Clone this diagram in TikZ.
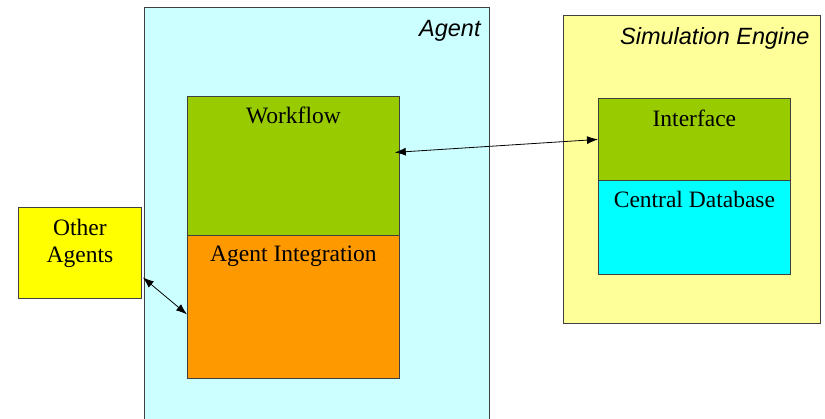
\documentclass[tikz,border=0pt]{standalone}
\usepackage{fontspec}
\setmainfont{Liberation Serif}
\setsansfont{Liberation Sans}
\usetikzlibrary{arrows.meta}

\definecolor{agentbg}{HTML}{CCFFFF}
\definecolor{enginebg}{HTML}{FFFF99}
\definecolor{flowgreen}{HTML}{99CC00}
\definecolor{integorange}{HTML}{FF9900}
\definecolor{otheryellow}{HTML}{FFFF00}
\definecolor{dbcyan}{HTML}{00FFFF}

\begin{document}
\begin{tikzpicture}[
    x=1pt, y=-1pt,
    font=\fontsize{23.5}{27}\selectfont,
    box/.style={rectangle, draw=black!75, line width=0.8pt, anchor=north west, inner sep=0pt},
    group/.style={box, fill=#1},
    part/.style={box, fill=#1},
    caption/.style={anchor=north east, font=\fontsize{23.5}{27}\selectfont\sffamily\itshape,
      inner sep=0pt, xshift=-9pt, yshift=-13pt},
    title/.style={anchor=north, inner sep=0pt, yshift=-11pt, align=center},
    link/.style={{Latex[length=11pt,width=8pt]}-{Latex[length=11pt,width=8pt]}, line width=0.8pt},
  ]
  \clip (0,0) rectangle (825,418);

  \node[group=agentbg, minimum width=345pt, minimum height=430pt,
    label={[caption]north east:Agent}] (agent) at (144,7) {};
  \node[part=flowgreen, minimum width=212pt, minimum height=139pt,
    label={[title]north:Workflow}] (workflow) at (187,96) {};
  \node[part=integorange, minimum width=212pt, minimum height=143pt,
    label={[title]north:Agent Integration}] (integration) at (187,235) {};

  \node[part=otheryellow, minimum width=123pt, minimum height=91pt,
    label={[title, yshift=-1pt]north:Other\\Agents}] (others) at (18,207) {};

  \node[group=enginebg, minimum width=257pt, minimum height=308pt,
    label={[caption, xshift=-2pt, yshift=1pt]north east:Simulation Engine}] (engine) at (563,15) {};
  \node[part=flowgreen, minimum width=192pt, minimum height=82pt,
    label={[title, yshift=-1pt]north:Interface}] (interface) at (598,98) {};
  \node[part=dbcyan, minimum width=192pt, minimum height=94pt,
    label={[title]north:Central Database}] (database) at (598,180) {};

  \draw[link] ([xshift=-5pt, yshift=13.5pt]workflow.east) -- (interface.west);
  \draw[link] ([xshift=1pt, yshift=-24.5pt]others.east) -- ([yshift=-7.5pt]integration.west);
\end{tikzpicture}
\end{document}
